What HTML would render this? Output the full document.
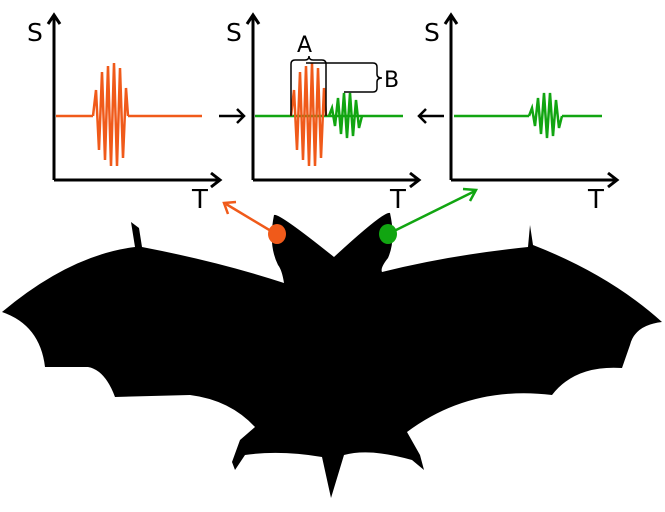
<!DOCTYPE html>
<html><head><meta charset="utf-8"><style>
html,body{margin:0;padding:0;background:#fff;}
svg{display:block}
text{font-family:"DejaVu Sans","Liberation Sans",sans-serif;fill:#000}
</style></head><body>
<svg width="665" height="512" viewBox="0 0 665 512" xmlns="http://www.w3.org/2000/svg">
<defs>
<g id="axes" fill="none" stroke="#000" stroke-width="3">
<path d="M0,180 V15 M-6,24 L0,15 L6,24"/>
<path d="M0,180 H166 M157,173 L166,180 L157,187"/>
</g>
<polyline id="ob" fill="none" stroke="#f05a1a" stroke-width="2.5" points="0,116 3,90 6,150 9,72 12,160 15,66 18,166 21,63 24,166 27,68 30,158 33,88 35,116"/>
<polyline id="gb" fill="none" stroke="#11a511" stroke-width="2.5" points="0,116 3,108 6,126 9,98 12,134 15,93 18,138 21,93 24,136 27,100 30,128 33,116"/>
</defs>
<use href="#axes" x="54"/>
<text x="27" y="41" font-size="25">S</text>
<text x="192" y="208" font-size="26">T</text>
<line x1="56" y1="116" x2="93" y2="116" stroke="#f05a1a" stroke-width="2.5"/>
<line x1="128" y1="116" x2="202" y2="116" stroke="#f05a1a" stroke-width="2.5"/>
<use href="#ob" x="93"/>
<path d="M219,116 H244 M237,109 L244,116 L237,123" fill="none" stroke="#000" stroke-width="2.5"/>
<use href="#axes" x="253"/>
<text x="226" y="41" font-size="25">S</text>
<text x="390" y="208" font-size="26">T</text>
<line x1="255" y1="116" x2="403" y2="116" stroke="#11a511" stroke-width="2.5"/>
<use href="#ob" x="291"/>
<use href="#gb" x="329"/>
<path d="M291,116 V64 Q291,60 295,60 H305 Q309,60 309,56 Q309,60 313,60 H322 Q326,60 326,64 V116" fill="none" stroke="#000" stroke-width="1.5"/>
<path d="M306,63 H373 Q377,63 377,67 V74 Q377,78 382,78 Q377,78 377,82 V88 Q377,92 373,92 H344" fill="none" stroke="#000" stroke-width="1.5"/>
<text x="297" y="52" font-size="22">A</text>
<text x="384" y="87" font-size="22">B</text>
<path d="M444,116 H419 M426,109 L419,116 L426,123" fill="none" stroke="#000" stroke-width="2.5"/>
<use href="#axes" x="451"/>
<text x="424" y="41" font-size="25">S</text>
<text x="588" y="208" font-size="26">T</text>
<line x1="454" y1="116" x2="529" y2="116" stroke="#11a511" stroke-width="2.5"/>
<line x1="562" y1="116" x2="602" y2="116" stroke="#11a511" stroke-width="2.5"/>
<use href="#gb" x="529"/>
<path fill="#000" d="M274,215 Q278,212 334,257 Q385,210 390,213 Q396,240 388,258 Q380,268 382,272 Q450,255 528,247 L530,225 L533,245 Q610,275 662,322 Q635,325 630,345 L622,368 Q575,365 552,395 Q470,385 407,432 L420,455 L424,470 L412,460 Q370,448 344,455 L331,498 L322,457 Q280,450 245,455 L235,470 L232,462 L240,440 L255,427 Q230,400 190,395 L115,397 Q105,370 88,367 L45,367 Q40,325 2,312 Q70,255 135,247 L131,222 L139,228 L142,247 Q220,262 284,283 Q282,270 278,265 Q268,245 274,215 Z"/>
<line x1="276" y1="234" x2="226" y2="204" stroke="#f05a1a" stroke-width="2.5"/>
<path d="M228,214 L224,203 L236,202" fill="none" stroke="#f05a1a" stroke-width="2.5"/>
<line x1="388" y1="234" x2="475" y2="191" stroke="#11a511" stroke-width="2.5"/>
<path d="M463,189 L476,190 L470,201" fill="none" stroke="#11a511" stroke-width="2.5"/>
<ellipse cx="277" cy="234" rx="9" ry="10" fill="#f05a1a"/>
<ellipse cx="388" cy="234" rx="9" ry="10" fill="#11a511"/>
</svg>
</body></html>
